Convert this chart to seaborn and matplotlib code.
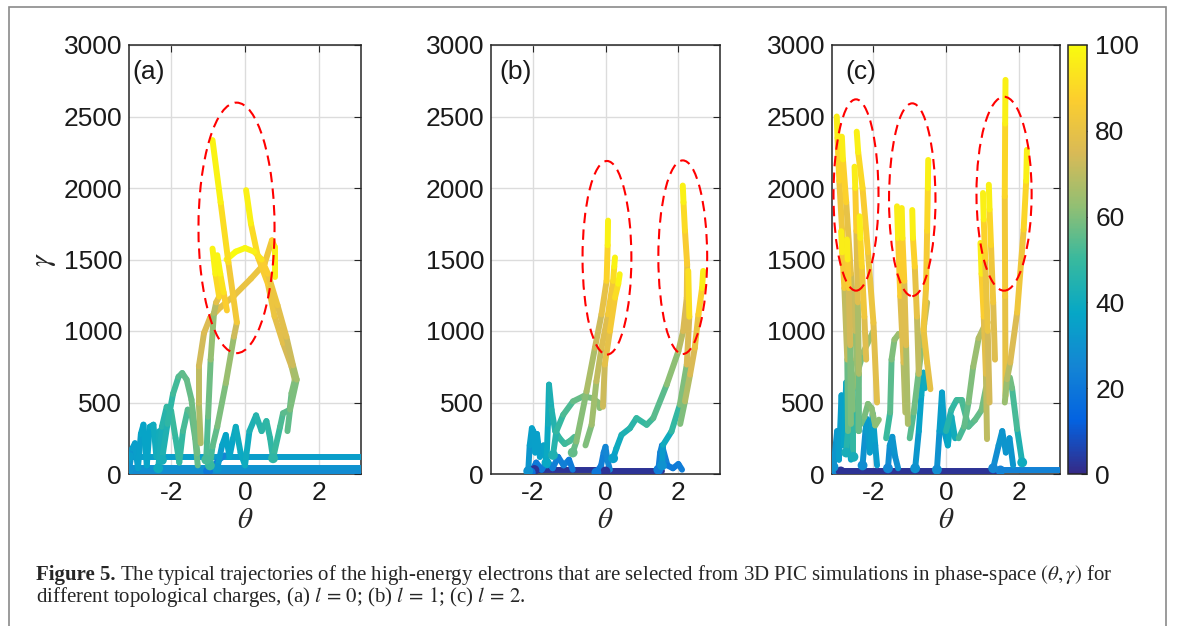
import numpy as np
import pandas as pd
import seaborn as sns
import matplotlib
matplotlib.use("Agg")
import matplotlib.pyplot as plt
from matplotlib.collections import LineCollection
from matplotlib.colors import LinearSegmentedColormap, Normalize
from matplotlib.patches import Ellipse, Rectangle
import matplotlib.cm as cm

# ---------------- data ----------------
# each panel: list of trajectories (theta, gamma, time-colour 0..100)

# panel (a), l = 0
a_theta = [
    [-3.14, 3.14],
    [-3.14, 3.14],
    [-3.14, 3.14],
    [-3.14, -3.05, -2.98, -2.90, -2.82, -2.75, -2.66, -2.58, -2.48, -2.40, -2.32],
    [-2.35, -2.25, -2.12, -2.0, -1.88, -1.78, -1.68, -1.55, -1.45, -1.35, -1.28],
    [-2.25, -2.10, -1.95, -1.80, -1.70, -1.58, -1.45, -1.35, -1.29],
    [-1.0, -0.85, -0.7, -0.55],
    [-0.75, -0.62, -0.52, -0.42, -0.32, -0.25, -0.12, 0.0, 0.12, 0.30, 0.45, 0.58, 0.68, 0.76],
    [-1.20, -1.25, -1.25, -1.11, -0.95, -0.66, -0.29, 0.16, 0.53, 0.73, 0.80, 0.80],
    [0.76, 0.95, 1.03, 1.21, 1.26, 1.35, 1.26, 1.03, 0.80, 0.62, 0.35, 0.16, 0.03],
    [1.15, 1.22, 1.40, 1.30, 1.12, 0.88, 0.62, 0.45, 0.25, 0.0, -0.25, -0.50],
    [-0.95, -0.88, -0.75, -0.52, -0.30, -0.22, -0.45, -0.66, -0.88],
    [-1.05, -1.0, -0.93, -0.84, -0.78, -0.70, -0.80, -0.88],
    [-0.49, -0.58, -0.67, -0.75],
]
a_gamma = [
    [120, 120],
    [40, 40],
    [8, 8],
    [30, 180, 215, 40, 280, 345, 60, 330, 345, 120, 300],
    [40, 330, 470, 440, 250, 80, 300, 450, 420, 250, 60],
    [98, 350, 560, 680, 706, 660, 520, 300, 145],
    [20, 60, 100, 130],
    [40, 200, 273, 120, 250, 330, 150, 60, 300, 410, 300, 370, 250, 110],
    [215, 500, 752, 986, 1090, 1167, 1249, 1366, 1471, 1634, 1590, 1380],
    [110, 330, 425, 449, 565, 659, 752, 916, 1103, 1331, 1518, 1751, 1985],
    [300, 450, 660, 760, 960, 1180, 1400, 1500, 1555, 1580, 1555, 1500],
    [60, 192, 332, 635, 960, 1060, 1480, 1900, 2335],
    [100, 400, 800, 1126, 1200, 1240, 1400, 1576],
    [1144, 1270, 1400, 1530],
]
a_time = [
    [34, 34],
    [30, 30],
    [27, 27],
    [30, 33, 35, 33, 36, 38, 35, 38, 40, 40, 42],
    [40, 44, 48, 50, 50, 48, 50, 54, 55, 56, 56],
    [42, 46, 50, 53, 55, 56, 57, 58, 58],
    [20, 22, 24, 26],
    [32, 35, 37, 36, 38, 40, 40, 38, 42, 45, 46, 48, 48, 48],
    [66, 68, 72, 75, 77, 79, 80, 81, 82, 84, 94, 100],
    [48, 52, 54, 56, 58, 62, 72, 77, 80, 84, 88, 94, 100],
    [54, 57, 62, 70, 76, 80, 84, 90, 96, 98, 100, 100],
    [50, 54, 57, 62, 66, 80, 88, 95, 100],
    [52, 55, 60, 66, 72, 86, 95, 100],
    [84, 90, 96, 100],
]

# panel (b), l = 1
b_theta = [
    [-1.95, 0.0],
    [0.0, 1.55],
    [-2.05, -1.9, -1.75, -1.6, -1.45, -1.3, -1.15, -1.0, -0.9],
    [-2.12, -2.08, -2.02, -1.98, -1.93, -1.88, -1.80, -1.70, -1.60],
    [-0.25, -0.12, -0.05, 0.0, 0.05, 0.12],
    [1.45, 1.50, 1.55, 1.70, 1.85, 2.0, 2.1],
    [-1.62, -1.58, -1.55, -1.48, -1.38, -1.26, -1.12, -0.98, -0.85],
    [-1.44, -1.35, -1.16, -0.89, -0.61, -0.35, -0.20, -0.16],
    [0.21, 0.30, 0.44, 0.67, 0.85, 1.13, 1.31, 1.68, 2.00, 2.13, 2.23, 2.24, 2.18, 2.14, 2.12],
    [1.55, 1.58, 1.81, 2.04, 2.23, 2.30, 2.27],
    [2.05, 2.18, 2.32, 2.45, 2.55, 2.65, 2.68],
    [-0.90, -0.80, -0.52, -0.29, -0.11, 0.03, 0.06, 0.07],
    [-0.55, -0.38, -0.25, -0.11, 0.07, 0.21, 0.24, 0.26],
    [-0.07, -0.02, 0.12, 0.26, 0.35, 0.39],
]
b_gamma = [
    [28, 28],
    [18, 18],
    [10, 80, 30, 90, 40, 120, 60, 100, 30],
    [20, 200, 320, 300, 150, 280, 120, 200, 60],
    [10, 60, 150, 190, 100, 30],
    [30, 150, 200, 60, 40, 70, 30],
    [80, 350, 625, 450, 300, 250, 210, 230, 260],
    [133, 297, 414, 508, 543, 530, 500, 461],
    [110, 180, 274, 320, 391, 344, 391, 625, 859, 999, 1233, 1467, 1701, 1900, 2017],
    [60, 204, 297, 484, 765, 1100, 1420],
    [350, 508, 695, 882, 1116, 1300, 1420],
    [150, 227, 578, 882, 1116, 1350, 1600, 1772],
    [200, 344, 648, 882, 1116, 1350, 1450, 1514],
    [470, 765, 999, 1233, 1330, 1397],
]
b_time = [
    [2, 2],
    [2, 2],
    [18, 20, 22, 20, 24, 22, 24, 22, 20],
    [30, 33, 36, 36, 34, 36, 34, 36, 36],
    [20, 22, 24, 25, 26, 26],
    [22, 24, 26, 22, 20, 22, 22],
    [38, 40, 42, 44, 46, 48, 50, 52, 54],
    [44, 47, 51, 55, 58, 60, 61, 62],
    [35, 38, 42, 45, 48, 50, 52, 58, 66, 72, 78, 84, 88, 94, 100],
    [30, 36, 44, 54, 66, 84, 100],
    [56, 64, 72, 78, 84, 92, 100],
    [56, 58, 64, 70, 76, 84, 94, 100],
    [58, 62, 68, 74, 80, 88, 95, 100],
    [70, 76, 82, 88, 95, 100],
]

# panel (c), l = 2
c_theta = [
    [-3.14, -2.9],
    [-2.9, 1.5],
    [1.5, 3.14],
    [-3.1, -3.0, -2.95, -2.88, -2.82, -2.75, -2.70, -2.62],
    [-2.30, -2.22, -2.18, -2.10, -2.02, -1.95, -1.90],
    [-1.60, -1.55, -1.48, -1.40, -1.32],
    [-0.25, -0.18, -0.11, -0.05, 0.05, 0.15, 0.25],
    [1.30, 1.45, 1.55, 1.65, 1.75, 1.85],
    [-0.85, -0.75, -0.68, -0.62, -0.58],
    [-2.75, -2.62, -2.45, -2.28, -2.0],
    [-2.45, -2.35, -2.25, -2.15, -2.05, -1.95, -1.85],
    [-1.65, -1.54, -1.50, -1.42, -1.30, -1.17, -1.10],
    [-1.0, -0.89, -0.76, -0.66, -0.60, -0.52],
    [0.0, 0.15, 0.29, 0.43, 0.62, 0.80, 0.98, 1.10],
    [0.35, 0.50, 0.62, 0.75, 0.90, 1.05, 1.15],
    [2.10, 1.96, 1.82, 1.76],
    [-2.55, -2.55, -2.62, -2.72, -2.84, -2.94, -2.99, -3.01],
    [-2.40, -2.42, -2.50, -2.62, -2.75, -2.84, -2.87],
    [-1.90, -2.0, -2.15, -2.30, -2.42, -2.46],
    [-2.41, -2.40, -2.43, -2.47, -2.50, -2.52],
    [-2.70, -2.72, -2.80, -2.86, -2.89],
    [-2.62, -2.64, -2.68, -2.71, -2.73],
    [-2.20, -2.25, -2.32, -2.36, -2.38],
    [-1.12, -1.17, -1.26, -1.32, -1.35],
    [-1.05, -1.10, -1.15, -1.20, -1.22],
    [-0.75, -0.80, -0.86, -0.91, -0.93],
    [-0.43, -0.52, -0.62, -0.55, -0.52, -0.50, -0.49],
    [1.64, 1.63, 1.62, 1.63, 1.64],
    [1.62, 1.68, 1.77, 1.96, 2.14, 2.21, 2.23],
    [1.13, 1.10, 1.04, 0.98, 0.95],
    [1.20, 1.15, 1.08, 1.04, 1.02],
    [1.35, 1.30, 1.24, 1.20, 1.18],
]
c_gamma = [
    [20, 20],
    [18, 18],
    [25, 25],
    [50, 300, 100, 550, 200, 640, 300, 100],
    [60, 300, 384, 150, 420, 200, 60],
    [40, 200, 260, 120, 40],
    [30, 300, 570, 300, 200, 400, 250],
    [40, 200, 300, 150, 250, 60],
    [40, 300, 550, 709, 600],
    [150, 550, 700, 850, 1000],
    [420, 350, 400, 490, 460, 340, 380],
    [250, 430, 800, 940, 980, 960, 800],
    [250, 430, 700, 900, 1050, 1200],
    [300, 450, 517, 517, 331, 378, 447, 600],
    [250, 330, 500, 750, 950, 1030, 1060],
    [81, 314, 600, 675],
    [120, 450, 800, 1150, 1600, 2050, 2350, 2500],
    [300, 600, 1000, 1400, 1900, 2200, 2359],
    [500, 1058, 1550, 2000, 2250, 2394],
    [300, 700, 1200, 1700, 2000, 2149],
    [300, 800, 1300, 1550, 1698],
    [350, 900, 1300, 1500, 1640],
    [800, 1100, 1450, 1650, 1802],
    [430, 779, 1244, 1650, 1872],
    [350, 900, 1350, 1650, 1860],
    [700, 1100, 1450, 1650, 1846],
    [593, 779, 1012, 1300, 1700, 2000, 2196],
    [547, 1244, 1942, 2450, 2756],
    [500, 663, 779, 1128, 1709, 2050, 2267],
    [244, 700, 1100, 1400, 1616],
    [500, 1000, 1500, 1780, 1965],
    [800, 1200, 1600, 1850, 2023],
]
c_time = [
    [26, 26],
    [2, 2],
    [24, 24],
    [30, 32, 33, 35, 35, 38, 38, 36],
    [28, 32, 34, 32, 36, 34, 32],
    [26, 30, 32, 30, 28],
    [28, 32, 36, 34, 36, 40, 42],
    [26, 30, 32, 30, 32, 30],
    [30, 34, 38, 40, 40],
    [42, 50, 56, 62, 66],
    [56, 57, 58, 60, 61, 62, 62],
    [48, 52, 58, 62, 64, 66, 68],
    [52, 56, 60, 64, 68, 72],
    [44, 47, 50, 52, 53, 55, 57, 60],
    [50, 54, 58, 62, 66, 70, 72],
    [40, 48, 56, 60],
    [42, 55, 66, 74, 80, 86, 92, 100],
    [48, 58, 68, 76, 84, 92, 100],
    [76, 80, 84, 88, 93, 100],
    [52, 62, 72, 82, 92, 100],
    [50, 64, 78, 92, 100],
    [52, 68, 80, 92, 100],
    [74, 80, 86, 93, 100],
    [64, 72, 82, 92, 100],
    [62, 72, 82, 92, 100],
    [66, 76, 84, 93, 100],
    [78, 80, 82, 84, 87, 93, 100],
    [78, 82, 86, 93, 100],
    [62, 66, 72, 80, 86, 93, 100],
    [66, 74, 82, 92, 100],
    [70, 78, 85, 93, 100],
    [74, 80, 86, 93, 100],
]

# dashed ellipses: centre theta, centre gamma, half width, half height
a_ellipses = [(-0.23, 1721, 1.03, 876)]
b_ellipses = [(0.04, 1512, 0.67, 677), (2.12, 1516, 0.67, 677)]
c_ellipses = [(-2.48, 1951, 0.62, 669), (-0.93, 1918, 0.64, 674), (1.60, 1960, 0.76, 678)]

panel_labels = ["(a)", "(b)", "(c)"]
label_theta = [-3.06, -2.90, -2.78]
y_ticks = [0, 500, 1000, 1500, 2000, 2500, 3000]
x_ticks = [-2, 0, 2]
cbar_ticks = [0, 20, 40, 60, 80, 100]

# ---------------- style ----------------
sns.set_style("white")
plt.rcParams["font.family"] = ["Liberation Sans", "DejaVu Sans"]
plt.rcParams["mathtext.fontset"] = "stix"
plt.rcParams["axes.unicode_minus"] = False

parula = LinearSegmentedColormap.from_list("parula", [
    "#352a87", "#0363e1", "#1485d4", "#06a7c6", "#38b99e",
    "#92bf73", "#d9ba56", "#fcce2e", "#f9fb0e"])
norm = Normalize(0, 100)

W, H = 1182, 626
fig = plt.figure(figsize=(W / 100, H / 100), dpi=100)
fig.patches.append(Rectangle((9 / W, -0.05), (1166 - 9) / W, 1 - 7 / H + 0.05,
                             transform=fig.transFigure, fill=False,
                             ec="#8a8a8a", lw=1.2, zorder=0))

ax_left = [129, 491, 832]
ax_width = [232, 229, 228]
ax_top, ax_bot = 45, 474
panels = [(a_theta, a_gamma, a_time, a_ellipses),
          (b_theta, b_gamma, b_time, b_ellipses),
          (c_theta, c_gamma, c_time, c_ellipses)]

for i, (th_list, ga_list, t_list, ells) in enumerate(panels):
    ax = fig.add_axes([ax_left[i] / W, 1 - ax_bot / H, ax_width[i] / W, (ax_bot - ax_top) / H])
    segs, vals = [], []
    for th, ga, tt in zip(th_list, ga_list, t_list):
        pts = np.column_stack([th, ga])
        tt = np.asarray(tt, float)
        segs.extend(np.stack([pts[:-1], pts[1:]], axis=1))
        vals.extend((tt[:-1] + tt[1:]) / 2)
    lc = LineCollection(segs, cmap=parula, norm=norm, linewidths=4.3,
                        capstyle="round", joinstyle="round", zorder=3)
    lc.set_array(np.asarray(vals))
    ax.add_collection(lc)

    # blobs at trajectory starts
    starts = pd.DataFrame({"theta": [t[0] for t in th_list],
                           "gamma": [g[0] for g in ga_list],
                           "time": [c[0] for c in t_list]})
    starts = starts[starts["gamma"] < 160]
    sns.scatterplot(data=starts, x="theta", y="gamma", hue="time", palette=parula,
                    hue_norm=(0, 100), s=50, linewidth=0, legend=False, ax=ax, zorder=4)

    for cx, cy, hw, hh in ells:
        ax.add_patch(Ellipse((cx, cy), 2 * hw, 2 * hh, fill=False, ec="red",
                             lw=1.5, ls=(0, (5, 3)), zorder=5))

    ax.set_xlim(-np.pi, np.pi)
    ax.set_ylim(0, 3000)
    ax.set_xticks(x_ticks)
    ax.set_yticks(y_ticks)
    ax.grid(True, color="#dcdcdc", lw=1)
    ax.set_axisbelow(True)
    ax.tick_params(direction="in", length=5, top=True, right=True,
                   labelsize=19, color="#262626", labelcolor="#1a1a1a", pad=5)
    for s in ax.spines.values():
        s.set_color("#262626")
        s.set_linewidth(1.1)
    ax.set_xlabel(r"$\theta$", fontsize=21, labelpad=1)
    ax.set_ylabel("")
    if i == 0:
        ax.set_ylabel(r"$\gamma$", fontsize=21, labelpad=4)
    ax.text(label_theta[i], 2810, panel_labels[i], fontsize=19, va="center",
            ha="left", color="#1a1a1a", zorder=6)

cax = fig.add_axes([1068 / W, 1 - ax_bot / H, 19 / W, (ax_bot - ax_top) / H])
cb = fig.colorbar(cm.ScalarMappable(norm=norm, cmap=parula), cax=cax, ticks=cbar_ticks)
cb.outline.set_edgecolor("#262626")
cb.outline.set_linewidth(1.1)
cax.tick_params(direction="in", length=4, labelsize=19, color="#262626",
                labelcolor="#1a1a1a", pad=6)

# caption
cap_x, cap_y1, cap_y2 = 36 / W, 1 - 580 / H, 1 - 602 / H
t1 = fig.text(cap_x, cap_y1, "Figure 5.", fontsize=15, fontweight="bold",
              family="Liberation Serif", va="baseline")
fig.canvas.draw()
bb = t1.get_window_extent(renderer=fig.canvas.get_renderer())
fig.text(bb.x1 / W + 4 / W, cap_y1,
         r"The typical trajectories of the high-energy electrons that are selected from "
         r"3D PIC simulations in phase-space $(\theta, \gamma)$ for",
         fontsize=15, family="Liberation Serif", va="baseline")
fig.text(cap_x, cap_y2,
         r"different topological charges, (a) $l\,=\,0$; (b) $l\,=\,1$; (c) $l\,=\,2$.",
         fontsize=15, family="Liberation Serif", va="baseline")

fig.savefig("out.png", dpi=100)
